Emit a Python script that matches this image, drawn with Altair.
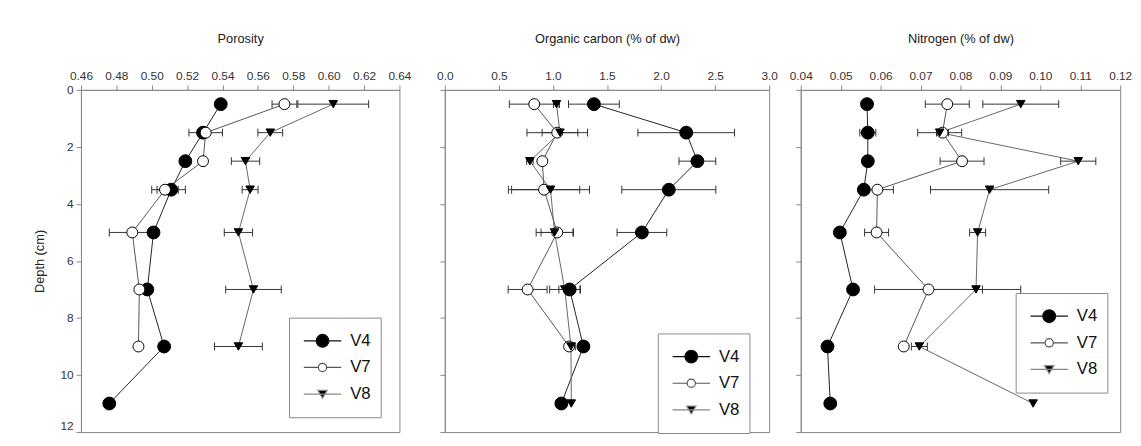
import altair as alt
import pandas as pd

FONT = "Liberation Sans"
series = ["V4", "V7", "V8"]
depth_all = [0.5, 1.5, 2.5, 3.5, 5, 7, 9, 11]
depth_short = [0.5, 1.5, 2.5, 3.5, 5, 7, 9]

# Porosity
por_v4 = [0.539, 0.529, 0.519, 0.511, 0.501, 0.4975, 0.507, 0.476]
por_v4_err = [0, 0, 0, 0.008, 0, 0, 0, 0]
por_v7 = [0.575, 0.5305, 0.529, 0.5075, 0.489, 0.493, 0.4925]
por_v7_err = [0.007, 0.0095, 0, 0.0075, 0.013, 0, 0]
por_v8 = [0.6026, 0.567, 0.553, 0.5556, 0.549, 0.5575, 0.549]
por_v8_err = [0.020, 0.007, 0.008, 0.0045, 0.008, 0.0157, 0.0135]

# Organic carbon
oc_v4 = [1.379, 2.233, 2.336, 2.072, 1.823, 1.155, 1.282, 1.078]
oc_v4_err = [0.235, 0.447, 0.17, 0.435, 0.23, 0.1, 0, 0]
oc_v7 = [0.827, 1.04, 0.902, 0.918, 1.04, 0.766, 1.15]
oc_v7_err = [0.23, 0.28, 0, 0.33, 0.15, 0.18, 0]
oc_v8 = [1.033, 1.065, 0.787, 0.978, 1.015, 1.11, 1.167, 1.17]
oc_v8_err = [0.027, 0.165, 0.03, 0.36, 0.17, 0.14, 0.04, 0]

# Nitrogen
n_v4 = [0.0566, 0.0568, 0.0568, 0.0558, 0.0498, 0.0531, 0.0467, 0.0474]
n_v4_err = [0, 0.002, 0, 0, 0, 0, 0, 0]
n_v7 = [0.0767, 0.0755, 0.0804, 0.0592, 0.0590, 0.072, 0.0658]
n_v7_err = [0.0055, 0.0015, 0.0055, 0.004, 0.003, 0.0135, 0]
n_v8 = [0.0951, 0.0748, 0.1095, 0.0873, 0.0843, 0.0839, 0.0697, 0.0982]
n_v8_err = [0.0095, 0.0055, 0.0044, 0.0148, 0.002, 0.0112, 0.002, 0]

por_ticks = [0.46, 0.48, 0.50, 0.52, 0.54, 0.56, 0.58, 0.60, 0.62, 0.64]
oc_ticks = [0.0, 0.5, 1.0, 1.5, 2.0, 2.5, 3.0]
n_ticks = [0.04, 0.05, 0.06, 0.07, 0.08, 0.09, 0.10, 0.11, 0.12]
depth_ticks = [0, 2, 4, 6, 8, 10, 12]

line_colors = ["#222222", "#555555", "#666666"]
point_fills = ["#000000", "#ffffff", "#000000"]
point_shapes = ["circle", "circle", "triangle-down"]
point_sizes = [170, 75, 85]
leg_strokes = ["#111111", "#555555", "#888888"]
leg_paths = [
    "M-1,0H-0.34M0.34,0H1M0.34,0A0.34,0.34 0 1 1 -0.34,0A0.34,0.34 0 1 1 0.34,0Z",
    "M-1,0H-0.22M0.22,0H1M0.22,0A0.22,0.22 0 1 1 -0.22,0A0.22,0.22 0 1 1 0.22,0Z",
    "M-1,0H1M-0.25,-0.2L0.25,-0.2L0,0.22Z",
]

PLOT_H = 347


def make_df(parts):
    rows = []
    for s, vals, errs, ds in parts:
        for d, v, e in zip(ds, vals, errs):
            rows.append(dict(series=s, depth=d, value=v, lo=v - e, hi=v + e, err=e))
    return pd.DataFrame(rows)


def panel(df, title, dom, ticks, fmt, width, show_y, lx, ly):
    xs = alt.Scale(domain=dom, nice=False, zero=False)
    ys = alt.Scale(domain=[0, 12], reverse=True, nice=False, zero=False)
    xax = alt.Axis(orient="top", values=ticks, format=fmt, title=title,
                   titlePadding=24, labelFlush=False, labelOverlap=False,
                   labelPadding=3)
    yax = alt.Axis(values=depth_ticks, labels=show_y,
                   title="Depth (cm)" if show_y else None, titlePadding=14,
                   labelPadding=3, labelOverlap=False,
                   labelBaseline={"condition": {"test": "datum.value == 12", "value": "bottom"},
                                  "value": "middle"})
    base = alt.Chart(df)
    lines = base.mark_line(strokeWidth=1, opacity=1).encode(
        x=alt.X("value:Q", scale=xs, axis=xax, title=title),
        y=alt.Y("depth:Q", scale=ys, axis=yax),
        color=alt.Color("series:N", scale=alt.Scale(domain=series, range=line_colors), legend=None),
        order="depth:Q",
    )
    err = base.transform_filter("datum.err > 0").mark_errorbar(
        ticks=True, size=8, thickness=1, color="#333333", opacity=1
    ).encode(
        x=alt.X("lo:Q", scale=xs, axis=xax, title=title),
        x2="hi:Q",
        y=alt.Y("depth:Q", scale=ys, axis=yax),
    )
    pts = base.mark_point(filled=True, opacity=1, strokeWidth=1).encode(
        x=alt.X("value:Q", scale=xs, axis=xax, title=title),
        y=alt.Y("depth:Q", scale=ys, axis=yax),
        shape=alt.Shape("series:N", scale=alt.Scale(domain=series, range=point_shapes), legend=None),
        fill=alt.Fill("series:N", scale=alt.Scale(domain=series, range=point_fills), legend=None),
        stroke=alt.Stroke("series:N", scale=alt.Scale(domain=series, range=["#000000"] * 3), legend=None),
        size=alt.Size("series:O", scale=alt.Scale(domain=series, range=point_sizes), legend=None),
    )
    leg_def = alt.Legend(
        title=None, orient="none", legendX=lx, legendY=ly,
        strokeColor="#888888", fillColor="white", padding=10,
        symbolSize=1444, clipHeight=27, rowPadding=-4,
        labelFontSize=17, labelFont=FONT, labelColor="#111111",
        symbolOffset=4, labelOffset=8, symbolOpacity=1, symbolStrokeWidth=1.2,
    )
    leg = alt.Chart(pd.DataFrame({"lg": series})).transform_filter("false").mark_point(
        filled=True, opacity=1, strokeWidth=1.2
    ).encode(
        shape=alt.Shape("lg:N", scale=alt.Scale(domain=series, range=leg_paths), legend=leg_def),
        fill=alt.Fill("lg:N", scale=alt.Scale(domain=series, range=point_fills), legend=leg_def),
        stroke=alt.Stroke("lg:N", scale=alt.Scale(domain=series, range=leg_strokes), legend=leg_def),
    )
    return alt.layer(lines, err, pts, leg).resolve_scale(
        shape="independent", fill="independent", stroke="independent",
        color="independent", size="independent",
    ).properties(width=width, height=PLOT_H)


por_df = make_df([("V4", por_v4, por_v4_err, depth_all),
                  ("V7", por_v7, por_v7_err, depth_short),
                  ("V8", por_v8, por_v8_err, depth_short)])
oc_df = make_df([("V4", oc_v4, oc_v4_err, depth_all),
                 ("V7", oc_v7, oc_v7_err, depth_short),
                 ("V8", oc_v8, oc_v8_err, depth_all)])
n_df = make_df([("V4", n_v4, n_v4_err, depth_all),
                ("V7", n_v7, n_v7_err, depth_short),
                ("V8", n_v8, n_v8_err, depth_all)])

p1 = panel(por_df, "Porosity", [0.46, 0.64], por_ticks, ".2f", 323, True, 211, 231)
p2 = panel(oc_df, "Organic carbon (% of dw)", [0.0, 3.0], oc_ticks, ".1f", 329, False, 216, 247)
p3 = panel(n_df, "Nitrogen (% of dw)", [0.04, 0.12], n_ticks, ".2f", 324, False, 218, 206)

res = dict(shape="independent", fill="independent", stroke="independent",
           color="independent", size="independent", x="independent", y="independent")

inner = alt.hconcat(p2, p3, spacing=32, bounds="flush").resolve_scale(**res)
chart = alt.hconcat(p1, inner, spacing=46, bounds="flush").resolve_scale(**res).properties(
    padding={"top": 21, "left": 25, "right": 0, "bottom": 1},
    background="white",
).configure_view(
    stroke="#888888", strokeWidth=1
).configure_axis(
    domainColor="#888888", tickColor="#888888", labelColor="#333333",
    labelFont=FONT, labelFontSize=12, titleFont=FONT, titleFontSize=13,
    titleFontWeight="normal", titleColor="#222222", grid=False, tickSize=5,
)

chart.save("out.html", embed_options={"renderer": "svg", "actions": False})
